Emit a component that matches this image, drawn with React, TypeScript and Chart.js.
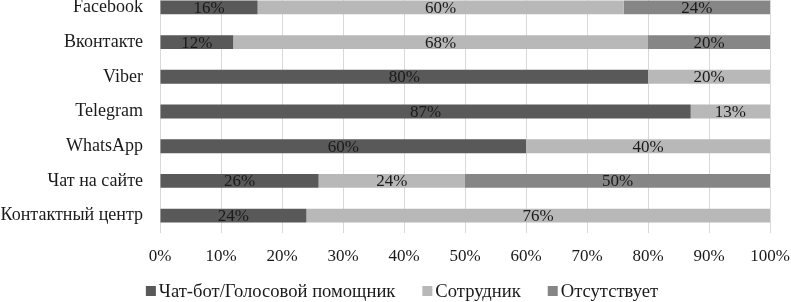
import React, { useEffect, useRef } from "react";
import { Chart, registerables } from "chart.js";

Chart.register(...registerables);

const categories = ["Facebook", "Вконтакте", "Viber", "Telegram", "WhatsApp", "Чат на сайте", "Контактный центр"];
const botValues = [16, 12, 80, 87, 60, 26, 24];
const staffValues = [60, 68, 20, 13, 40, 24, 76];
const noneValues = [24, 20, 0, 0, 0, 50, 0];
const seriesNames = ["Чат-бот/Голосовой помощник", "Сотрудник", "Отсутствует"];
const seriesColors = ["#595959", "#b8b8b8", "#868686"];
const xTicks = [0, 10, 20, 30, 40, 50, 60, 70, 80, 90, 100];

const FONT = "'Liberation Serif', 'Times New Roman', serif";
const OFFSET_TOP = -10;

const labelPlugin = {
  id: "segLabels",
  afterDatasetsDraw(chart: any) {
    const ctx = chart.ctx;
    ctx.save();
    ctx.font = `17px ${FONT}`;
    ctx.fillStyle = "#1a1a1a";
    ctx.textAlign = "center";
    ctx.textBaseline = "middle";
    chart.data.datasets.forEach((ds: any, i: number) => {
      const meta = chart.getDatasetMeta(i);
      meta.data.forEach((el: any, j: number) => {
        const v = ds.data[j];
        if (!v) return;
        const x = (el.x + el.base) / 2;
        ctx.fillText(`${v}%`, x, el.y + 1);
      });
    });
    ctx.restore();
  },
};

const legendPlugin = {
  id: "customLegend",
  afterDraw(chart: any) {
    const ctx = chart.ctx;
    ctx.save();
    ctx.font = `18.6px ${FONT}`;
    ctx.textBaseline = "middle";
    ctx.textAlign = "left";
    const box = 10;
    const gap = 3;
    const itemGap = 27;
    const widths = chart.data.datasets.map((d: any) => ctx.measureText(d.label).width);
    const total = widths.reduce((a: number, w: number) => a + box + gap + w, 0) + itemGap * (widths.length - 1);
    let x = 402 - total / 2;
    const cy = 291 - OFFSET_TOP;
    chart.data.datasets.forEach((d: any, i: number) => {
      ctx.fillStyle = d.backgroundColor;
      ctx.fillRect(x, cy - box / 2, box, box);
      ctx.fillStyle = "#1a1a1a";
      ctx.fillText(d.label, x + box + gap, cy + 1);
      x += box + gap + widths[i] + itemGap;
    });
    ctx.restore();
  },
};

export default function App() {
  const ref = useRef<HTMLCanvasElement>(null);
  useEffect(() => {
    document.body.style.margin = "0";
    const chart = new Chart(ref.current!, {
      type: "bar",
      data: {
        labels: categories,
        datasets: [
          { label: seriesNames[0], data: botValues, backgroundColor: seriesColors[0] },
          { label: seriesNames[1], data: staffValues, backgroundColor: seriesColors[1] },
          { label: seriesNames[2], data: noneValues, backgroundColor: seriesColors[2] },
        ],
      },
      options: {
        indexAxis: "y",
        animation: false,
        responsive: false,
        maintainAspectRatio: false,
        layout: { padding: { top: 0, right: 21, bottom: 34, left: 0 } },
        datasets: { bar: { categoryPercentage: 1, barPercentage: 0.4 } } as any,
        scales: {
          x: {
            stacked: true,
            min: 0,
            max: 100,
            afterBuildTicks: (s: any) => {
              s.ticks = xTicks.map((v) => ({ value: v }));
            },
            afterFit: (s: any) => {
              s.height = 35;
              s.paddingLeft = 0;
              s.paddingRight = 0;
            },
            ticks: {
              callback: (v: any) => `${v}%`,
              font: { family: FONT, size: 17 },
              color: "#1a1a1a",
              padding: 13,
              maxRotation: 0,
            },
            grid: { color: "#d9d9d9", drawTicks: false },
            border: { display: false },
          },
          y: {
            stacked: true,
            afterFit: (s: any) => {
              s.width = 160;
              s.paddingTop = 0;
              s.paddingBottom = 0;
            },
            ticks: {
              font: { family: FONT, size: 18 },
              color: "#1a1a1a",
              padding: 17,
            },
            grid: { display: false, drawTicks: false },
            border: { display: false },
          },
        },
        plugins: {
          legend: { display: false },
          tooltip: { enabled: false },
        },
      },
      plugins: [labelPlugin, legendPlugin],
    });
    return () => chart.destroy();
  }, []);
  return (
    <div style={{ position: "absolute", left: 0, top: OFFSET_TOP, width: 791, height: 312 }}>
      <canvas ref={ref} width={791} height={312} style={{ width: 791, height: 312 }} />
    </div>
  );
}
